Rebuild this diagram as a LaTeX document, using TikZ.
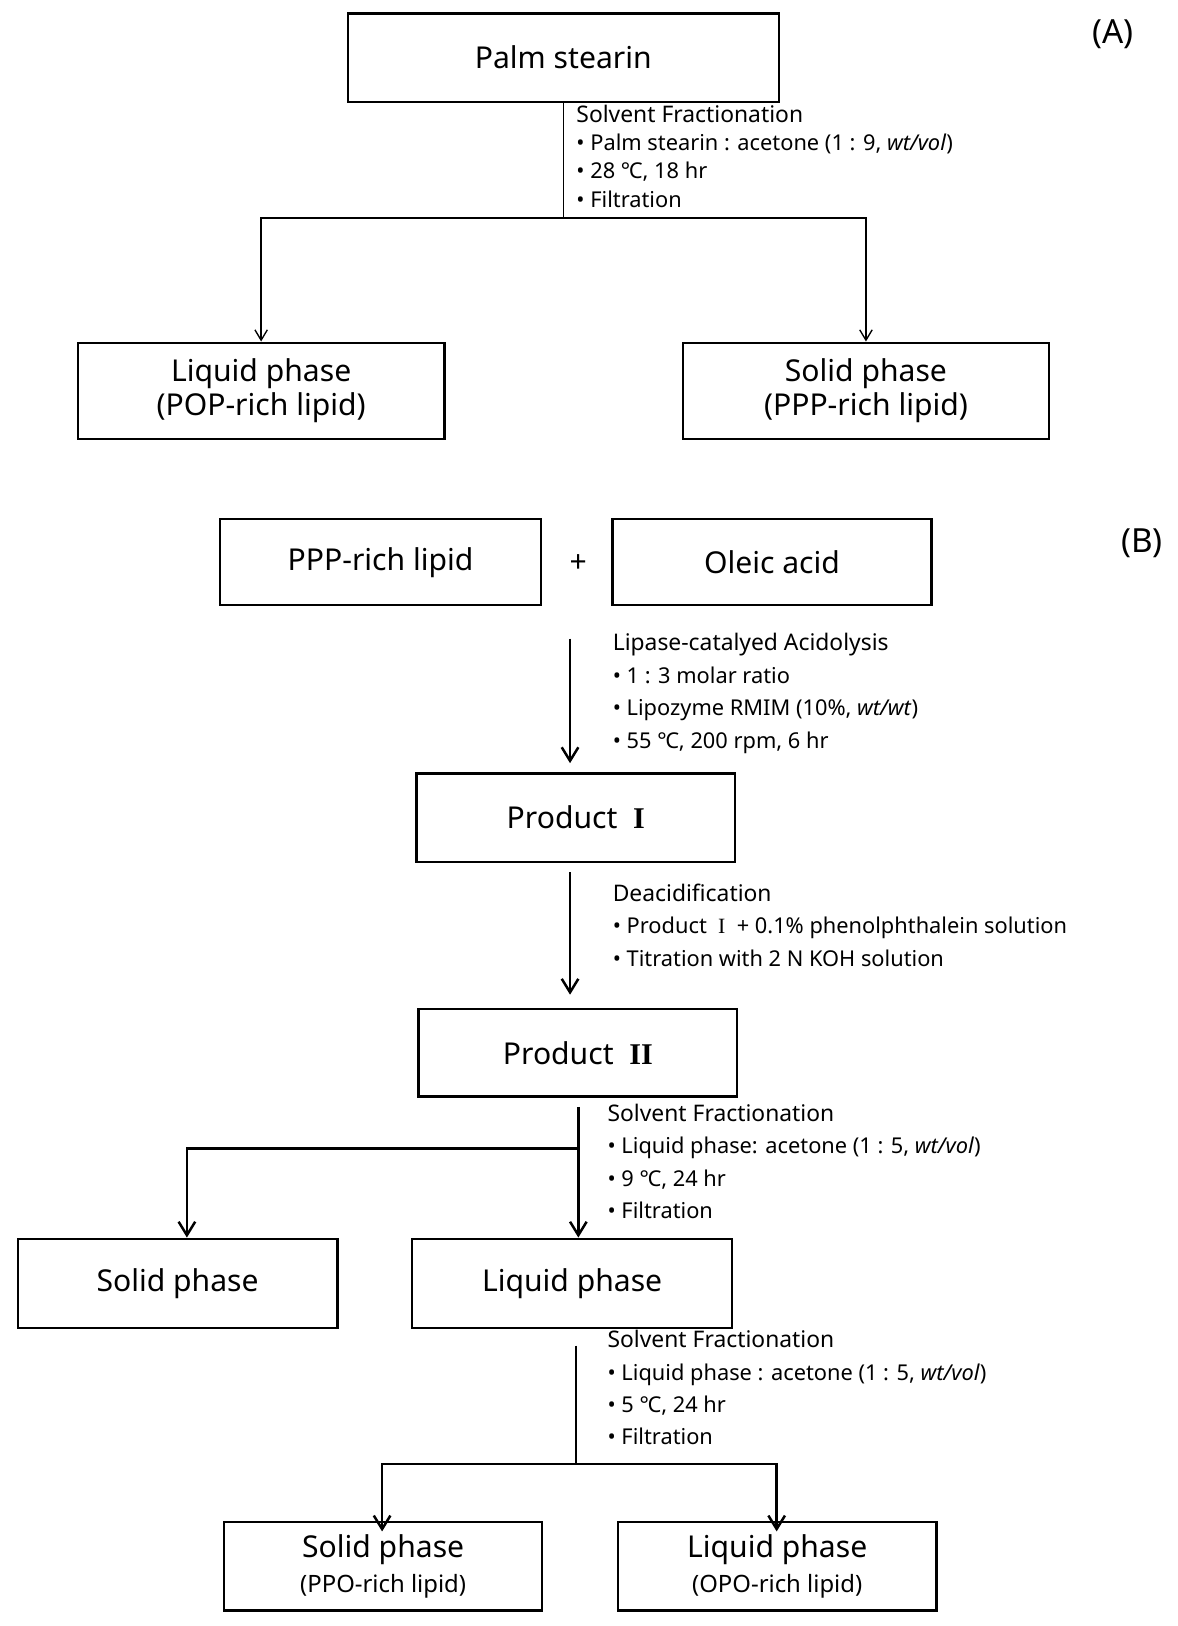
\documentclass[tikz,border=0pt]{standalone}
\usepackage{fontspec}
\setmainfont{Noto Sans}
\newfontfamily\rmn{Liberation Serif}
\usetikzlibrary{arrows.meta}
\begin{document}
\begin{tikzpicture}[x=1pt,y=-1pt,
 box/.style={draw,line width=2.2pt,font=\fontsize{29}{33}\selectfont\bfseries,align=center,inner sep=0pt},
 ann/.style={anchor=north west,align=left,font=\fontsize{21}{31.2}\selectfont,inner sep=0pt},
 thin/.style={line width=1.3pt,-{Straight Barb[length=10pt,width=12pt,line width=1.3pt]}},
 thick/.style={line width=2.6pt,-{Straight Barb[length=13pt,width=16pt,line width=2.4pt]}},
 lbl/.style={font=\fontsize{32}{36}\selectfont\bfseries}]
\useasboundingbox (0,0) rectangle (1134,1566);
\newcommand{\bx}[6]{\node[box,minimum width=#4-#2,minimum height=#5-#3] (#1) at ({(#2+#4)/2},{(#3+#5)/2}) {#6};}
\newcommand{\hd}[1]{{\fontsize{22}{31.2}\selectfont\bfseries #1}}
% (A)
\node[lbl] (A) at (1072,33) {(A)};
\bx{ps}{335}{13}{750}{98}{Palm stearin}
\bx{lp1}{75}{330}{428}{423}{Liquid phase\\(POP-rich lipid)}
\bx{sp1}{658}{330}{1010}{423}{Solid phase\\(PPP-rich lipid)}
\coordinate (j1) at (543,210);
\draw[line width=1.3pt] (ps.south -| j1) -- (j1);
\draw[thin] (j1) -| (lp1.north);
\draw[thin] (j1) -| (sp1.north);
\node[ann] (a1) at (555,101) {\hd{Solvent Fractionation}\\[-4pt]• Palm stearin : acetone (1 : 9, \textit{wt/vol})\\[-4pt]• 28 ℃, 18 hr\\[-4pt]• Filtration};
% (B)
\node[lbl] (B) at (1100,523) {(B)};
\bx{ppp}{212}{500}{521}{583}{PPP-rich lipid}
\node[font=\fontsize{29}{33}\selectfont\bfseries] (plus) at (557,543) {+};
\bx{ole}{590}{500}{897}{583}{Oleic acid}
\bx{p1}{401}{745}{708}{830}{Product \ {\rmn I}}
\bx{p2}{403}{972}{710}{1056}{Product \ {\rmn II}}
\bx{sp2}{17}{1193}{325}{1279}{Solid phase}
\bx{lp2}{397}{1193}{705}{1279}{Liquid phase}
\bx{sp3}{216}{1466}{522}{1551}{Solid phase\\{\fontsize{23}{27}\selectfont (PPO-rich lipid)}}
\bx{lp3}{595}{1466}{902}{1551}{Liquid phase\\{\fontsize{23}{27}\selectfont (OPO-rich lipid)}}
\coordinate (t1) at (549,615);
\draw[thick] (t1) -- (549,735);
\node[ann] (a2) at (590,610) {\hd{Lipase-catalyed Acidolysis}\\• 1 : 3 molar ratio\\• Lipozyme RMIM (10\%, \textit{wt/wt})\\• 55 ℃, 200 rpm, 6 hr};
\coordinate (t2) at (549,840);
\draw[thick] (t2) -- (549,958);
\node[ann] (a3) at (590,851) {\hd{Deacidification}\\• Product \ {\rmn I} \ + 0.1\% phenolphthalein solution\\• Titration with 2 N KOH solution};
\coordinate (t3) at (557,1066);
\coordinate (j3) at (557,1106);
\draw[thick] (t3) -- (lp2.north -| t3);
\draw[thick] (j3) -| (sp2.north -| 180,0);
\node[ann] (a4) at (585,1063) {\hd{Solvent Fractionation}\\• Liquid phase: acetone (1 : 5, \textit{wt/vol})\\• 9 ℃, 24 hr\\• Filtration};
\coordinate (t4) at (555,1296);
\coordinate (j4) at (555,1410);
\draw[line width=2pt] (t4) -- (j4);
\draw[thick] (j4) -| ([yshift=-10pt]sp3.north -| 368,0);
\draw[thick] (j4) -| ([yshift=-10pt]lp3.north -| 748,0);
\node[ann] (a5) at (585,1281) {\hd{Solvent Fractionation}\\• Liquid phase : acetone (1 : 5, \textit{wt/vol})\\• 5 ℃, 24 hr\\• Filtration};
\end{tikzpicture}
\end{document}
